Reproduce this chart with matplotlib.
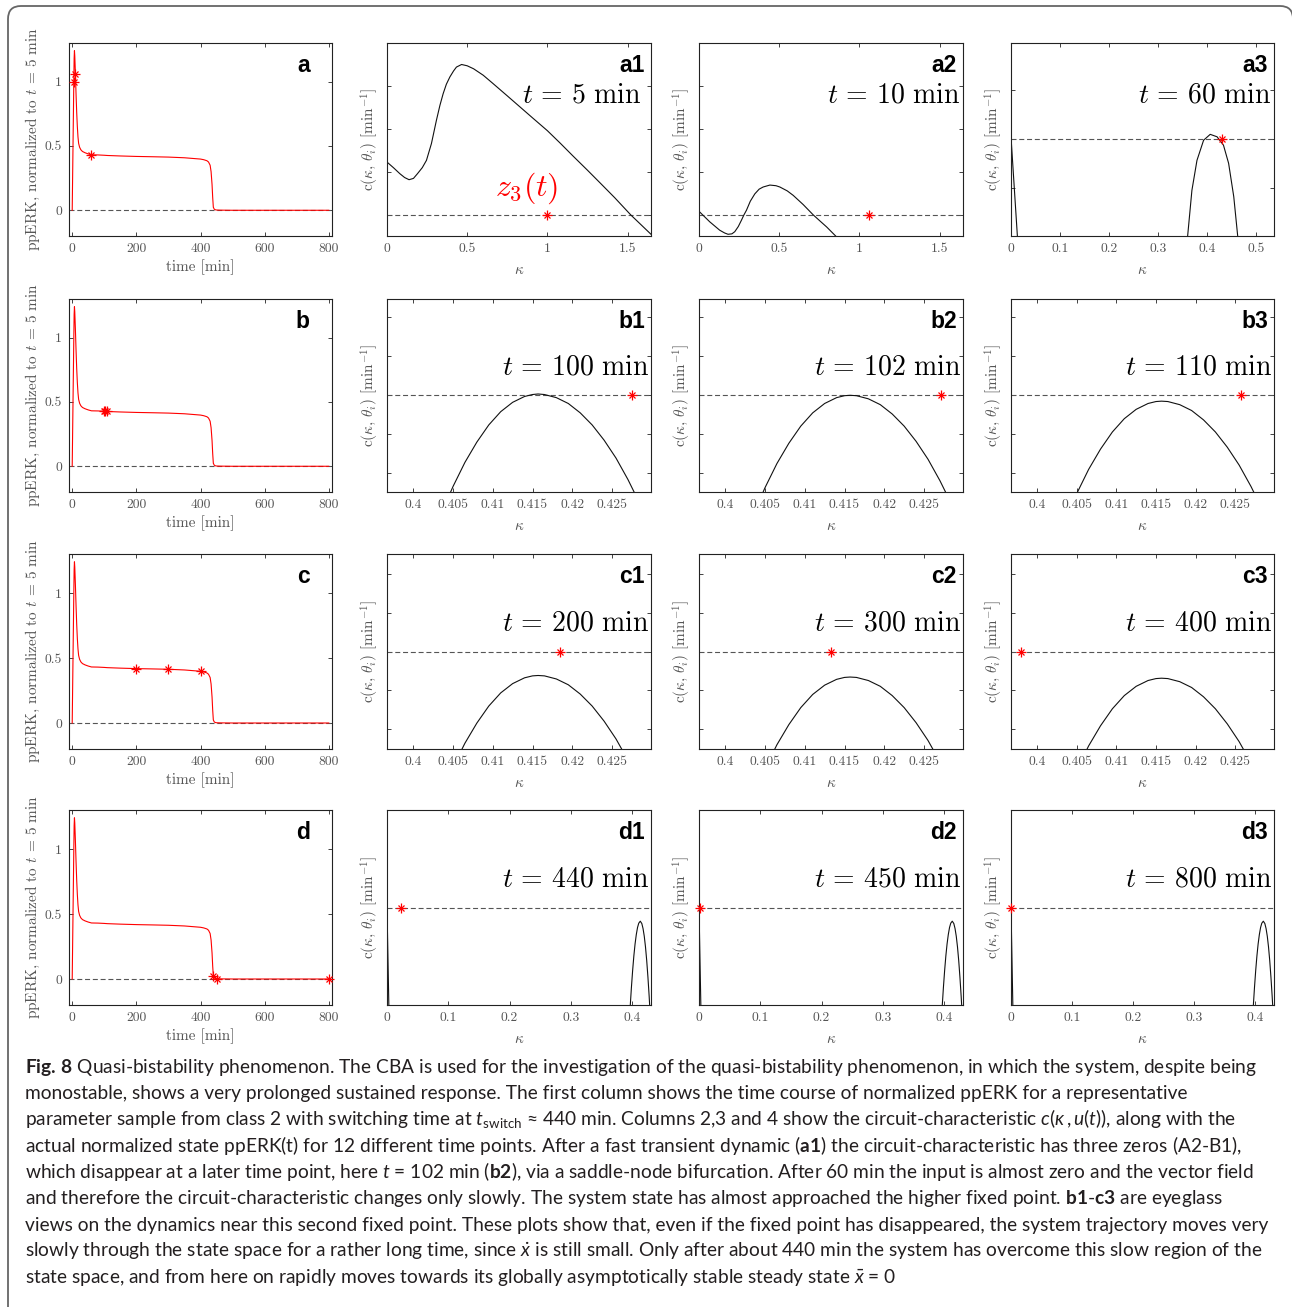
import matplotlib
matplotlib.use('Agg')
import matplotlib.pyplot as plt
import matplotlib.patches as mpatches
from matplotlib.ticker import FormatStrFormatter

plt.rcParams['font.family'] = 'cmr10'
plt.rcParams['mathtext.fontset'] = 'cm'
plt.rcParams['axes.unicode_minus'] = False
plt.rcParams['axes.formatter.use_mathtext'] = True
plt.rcParams['mathtext.rm'] = 'Lato'
plt.rcParams['mathtext.it'] = 'Lato:italic'
plt.rcParams['mathtext.bf'] = 'Lato:bold'

# ---- data -------------------------------------------------------------
# column 1: ppERK time course, normalized to t = 5 min
time_min = [0, 2, 4, 5, 6, 7, 8, 10, 12, 14, 16, 18, 20, 23, 27, 32, 40, 50, 60,
            80, 100, 102, 110, 150, 200, 250, 300, 350, 400, 410, 420, 425, 430,
            433, 436, 438, 440, 443, 446, 450, 460, 500, 600, 700, 800]
ppERK = [0, 0.4, 0.8, 1.0, 1.18, 1.24, 1.2, 1.06, 0.9, 0.76, 0.65, 0.57, 0.52,
         0.49, 0.47, 0.457, 0.447, 0.438, 0.431, 0.43, 0.4275, 0.4271, 0.4257,
         0.422, 0.4184, 0.416, 0.4133, 0.408, 0.3979, 0.393, 0.385, 0.375, 0.35,
         0.3, 0.2, 0.1, 0.0235, 0.008, 0.004, 0.002, 0.001, 0, 0, 0, 0]

# snapshot times (columns 2-4) and the state at those times
snap_times = [5, 10, 60, 100, 102, 110, 200, 300, 400, 440, 450, 800]
snap_ppERK = [1.0, 1.06, 0.431, 0.4275, 0.4271, 0.4257, 0.4184, 0.4133, 0.3979,
              0.0235, 0.002, 0.0]
row_names = ['a', 'b', 'c', 'd']

# circuit characteristic c(kappa, theta_i), arbitrary units (0 = dashed line)
kappa_a1 = [0, 0.04, 0.08, 0.11, 0.1375, 0.165, 0.19, 0.22, 0.246, 0.277, 0.308,
            0.33, 0.35, 0.37, 0.392, 0.415, 0.433, 0.465, 0.50, 0.54, 0.60, 0.66,
            0.75, 0.83, 0.91, 1.0, 1.08, 1.16, 1.25, 1.33, 1.42, 1.52, 1.646]
c_a1 = [1.23, 1.10, 0.96, 0.87, 0.82, 0.85, 0.96, 1.10, 1.27, 1.66, 2.20, 2.55,
        2.82, 3.04, 3.21, 3.35, 3.44, 3.50, 3.47, 3.40, 3.25, 3.06, 2.77, 2.51,
        2.25, 1.96, 1.67, 1.37, 1.04, 0.74, 0.40, 0.0, -0.45]

kappa_a2 = [0, 0.067, 0.129, 0.16, 0.181, 0.205, 0.223, 0.245, 0.265, 0.28, 0.296,
            0.32, 0.348, 0.375, 0.40, 0.442, 0.48, 0.504, 0.55, 0.5875, 0.65,
            0.7125, 0.76, 0.796, 0.852]
c_a2 = [0.085, -0.16, -0.355, -0.42, -0.45, -0.44, -0.39, -0.27, -0.12, 0.0, 0.11,
        0.32, 0.49, 0.60, 0.65, 0.695, 0.68, 0.65, 0.56, 0.455, 0.24, 0.0, -0.16,
        -0.28, -0.49]

kappa_a3_low = [0, 0.013]
c_a3_low = [0.05, -1.97]
kappa_a3 = [0.36, 0.3687, 0.379, 0.3925, 0.406, 0.42, 0.433, 0.4435, 0.454, 0.462]
c_a3 = [-1.97, -1.04, -0.43, -0.02, 0.10, 0.05, -0.12, -0.49, -1.17, -1.97]

kappa_zoom = [0.4040, 0.4050, 0.4065, 0.4080, 0.4095, 0.4110, 0.4125, 0.4140,
              0.4150, 0.4157, 0.4165, 0.4180, 0.4195, 0.4210, 0.4225, 0.4240,
              0.4255, 0.4270, 0.4285]
c_b1 = [-2.81, -2.34, -1.72, -1.20, -0.76, -0.42, -0.18, -0.03, 0.02, 0.034, 0.02,
        -0.06, -0.21, -0.45, -0.76, -1.15, -1.61, -2.16, -2.78]
c_b2 = [-2.84, -2.37, -1.75, -1.23, -0.79, -0.45, -0.21, -0.06, -0.01, 0.0, -0.01,
        -0.09, -0.24, -0.48, -0.79, -1.18, -1.64, -2.19, -2.81]
c_b3 = [-2.99, -2.52, -1.90, -1.38, -0.94, -0.60, -0.36, -0.21, -0.16, -0.15, -0.16,
        -0.24, -0.39, -0.63, -0.94, -1.33, -1.79, -2.34, -2.96]
c_c1 = [-3.46, -2.99, -2.37, -1.85, -1.41, -1.07, -0.83, -0.68, -0.63, -0.62, -0.63,
        -0.71, -0.86, -1.10, -1.41, -1.80, -2.26, -2.81, -3.43]
c_c2 = [-3.50, -3.03, -2.41, -1.89, -1.45, -1.11, -0.87, -0.72, -0.67, -0.66, -0.67,
        -0.75, -0.90, -1.14, -1.45, -1.84, -2.30, -2.85, -3.47]
c_c3 = [-3.53, -3.06, -2.44, -1.92, -1.48, -1.14, -0.90, -0.75, -0.70, -0.69, -0.70,
        -0.78, -0.93, -1.17, -1.48, -1.87, -2.33, -2.88, -3.50]

kappa_d_low = [0, 0.003]
c_d_low = [0.0, -2.91]
kappa_d = [0.3972, 0.3990, 0.4010, 0.4030, 0.4050, 0.4070, 0.4090, 0.4110, 0.4135,
           0.4160, 0.4180, 0.4200, 0.4220, 0.4240, 0.4260, 0.4280, 0.4288]
c_d = [-2.91, -2.39, -1.88, -1.44, -1.08, -0.80, -0.59, -0.46, -0.40, -0.47, -0.62,
       -0.85, -1.17, -1.58, -2.08, -2.65, -2.91]

curves = [
    [(kappa_a1, c_a1)], [(kappa_a2, c_a2)], [(kappa_a3_low, c_a3_low), (kappa_a3, c_a3)],
    [(kappa_zoom, c_b1)], [(kappa_zoom, c_b2)], [(kappa_zoom, c_b3)],
    [(kappa_zoom, c_c1)], [(kappa_zoom, c_c2)], [(kappa_zoom, c_c3)],
    [(kappa_d_low, c_d_low), (kappa_d, c_d)], [(kappa_d_low, c_d_low), (kappa_d, c_d)],
    [(kappa_d_low, c_d_low), (kappa_d, c_d)],
]

caption_lines = [
    r"$\mathbf{Fig.\,8}$ Quasi-bistability phenomenon. The CBA is used for the investigation of the quasi-bistability phenomenon, in which the system, despite being",
    "monostable, shows a very prolonged sustained response. The first column shows the time course of normalized ppERK for a representative",
    r"parameter sample from class 2 with switching time at $t_{\mathrm{switch}}$ ≈ 440 min. Columns 2,3 and 4 show the circuit-characteristic $c(\kappa\,,u(t))$, along with the",
    r"actual normalized state ppERK(t) for 12 different time points. After a fast transient dynamic ($\mathbf{a1}$) the circuit-characteristic has three zeros (A2-B1),",
    r"which disappear at a later time point, here $t$ = 102 min ($\mathbf{b2}$), via a saddle-node bifurcation. After 60 min the input is almost zero and the vector field",
    r"and therefore the circuit-characteristic changes only slowly. The system state has almost approached the higher fixed point. $\mathbf{b1}$-$\mathbf{c3}$ are eyeglass",
    "views on the dynamics near this second fixed point. These plots show that, even if the fixed point has disappeared, the system trajectory moves very",
    r"slowly through the state space for a rather long time, since $\dot{x}$ is still small. Only after about 440 min the system has overcome this slow region of the",
    r"state space, and from here on rapidly moves towards its globally asymptotically stable steady state $\bar{x}$ = 0",
]

# ---- layout / styles ---------------------------------------------------
W, H = 1292, 1307
col_left = [69, 387, 699, 1011]
col_w = [263, 264, 264, 263]
row_top = [43, 299, 554, 810]
row_h = [193, 193, 195, 195]

xlims = [(0, 1.646), (0, 1.646), (0, 0.536)] + [(0.3967, 0.4299)] * 6 + [(0, 0.431)] * 3
ylims = [(-0.49, 4.0), (-0.49, 4.0), (-1.97, 1.96)] + [(-2.48, 2.47)] * 3 \
    + [(-2.52, 2.52)] * 3 + [(-2.91, 2.93)] * 3
xticks = [[0, 0.5, 1, 1.5]] * 2 + [[0, 0.1, 0.2, 0.3, 0.4, 0.5]] \
    + [[0.4, 0.405, 0.41, 0.415, 0.42, 0.425]] * 6 + [[0, 0.1, 0.2, 0.3, 0.4]] * 3
yticks = [[0, 1, 2, 3]] * 2 + [[-1, 0, 1]] + [[-2, -1, 0, 1, 2]] * 6 + [[]] * 3

gray = '#555555'
red = '#ff0000'


def style(ax):
    ax.tick_params(direction='in', length=3, width=0.6, top=True, right=True,
                   labelsize=9.8, labelcolor=gray, pad=5, color='#222222')
    for s in ax.spines.values():
        s.set_linewidth(0.8)
        s.set_color('#222222')
    ax.xaxis.set_major_formatter(FormatStrFormatter('%g'))
    ax.yaxis.set_major_formatter(FormatStrFormatter('%g'))


def asterisk(ax, x, y):
    ax.plot([x], [y], ls='none', marker='+', ms=7, mew=0.9, color=red, clip_on=False, zorder=5)
    ax.plot([x], [y], ls='none', marker='x', ms=5, mew=0.9, color=red, clip_on=False, zorder=5)


fig = plt.figure(figsize=(W / 100, H / 100), dpi=100)
fig.patch.set_facecolor('white')

for r in range(4):
    for c in range(4):
        rect = [col_left[c] / W, 1 - (row_top[r] + row_h[r]) / H, col_w[c] / W, row_h[r] / H]
        ax = fig.add_axes(rect)
        style(ax)
        if c == 0:
            ax.axhline(0, color=gray, lw=0.8, ls=(0, (4.5, 2.5)))
            ax.plot(time_min, ppERK, color=red, lw=0.8)
            for k in range(3):
                i = 3 * r + k
                asterisk(ax, snap_times[i], snap_ppERK[i])
            ax.set_xlim(-10, 810)
            ax.set_ylim(-0.2, 1.3)
            ax.set_xticks([0, 200, 400, 600, 800])
            ax.set_yticks([0, 0.5, 1])
            ax.set_xlabel('time [min]', fontsize=11, color=gray)
            ax.set_ylabel(r'ppERK, normalized to $t$ = 5 min', fontsize=11, color=gray)
            ax.xaxis.set_label_coords(0.5, -0.12)
            ax.yaxis.set_label_coords(-0.103, 0.5)
            ax.text(0.916, 0.886, row_names[r], transform=ax.transAxes, ha='right',
                    va='center', fontsize=16.5, fontweight='bold', family='Liberation Sans')
        else:
            i = 3 * r + c - 1
            ax.axhline(0, color=gray, lw=0.8, ls=(0, (4.5, 2.5)))
            for kx, ky in curves[i]:
                ax.plot(kx, ky, color='#111111', lw=0.8)
            asterisk(ax, snap_ppERK[i], 0)
            ax.set_xlim(*xlims[i])
            ax.set_ylim(*ylims[i])
            ax.set_xticks(xticks[i])
            ax.set_yticks(yticks[i])
            ax.set_yticklabels([])
            ax.set_xlabel(r'$\kappa$', fontsize=11, color=gray)
            ax.set_ylabel(r'c($\kappa$, $\theta_i$) [min$^{-1}$]', fontsize=11, color=gray)
            ax.xaxis.set_label_coords(0.5, -0.14)
            ax.yaxis.set_label_coords(-0.022, 0.5)
            ax.text(0.977, 0.886, row_names[r] + str(c), transform=ax.transAxes,
                    ha='right', va='center', fontsize=16.5, fontweight='bold',
                    family='Liberation Sans')
            ty = 0.73 if r == 0 else 0.645
            tx = 0.737 if r == 0 else 0.713
            ax.text(tx, ty, r'$t\,=\,%d\ \mathrm{min}$' % snap_times[i], transform=ax.transAxes,
                    ha='center', va='center', fontsize=20, math_fontfamily='cm')
            if i == 0:
                ax.text(0.529, 0.249, r'$z_3(t)$', transform=ax.transAxes, ha='center',
                        va='center', fontsize=23, color=red, math_fontfamily='cm')

# caption
for n, line in enumerate(caption_lines):
    fig.text(25 / W, 1 - (1072.5 + 26.35 * n) / H, line, ha='left', va='baseline',
             fontsize=13.8, family='Lato', color='#231f20', math_fontfamily='custom')

# rounded frame around the figure
frame = mpatches.FancyBboxPatch((8 / W, -0.03), (1293 - 8) / W, 1 - 6 / H + 0.03,
                                boxstyle='round,pad=0,rounding_size=0.01',
                                transform=fig.transFigure, fill=False,
                                edgecolor='#666666', lw=1.3, clip_on=False)
fig.add_artist(frame)

fig.savefig('out.png', dpi=100)
